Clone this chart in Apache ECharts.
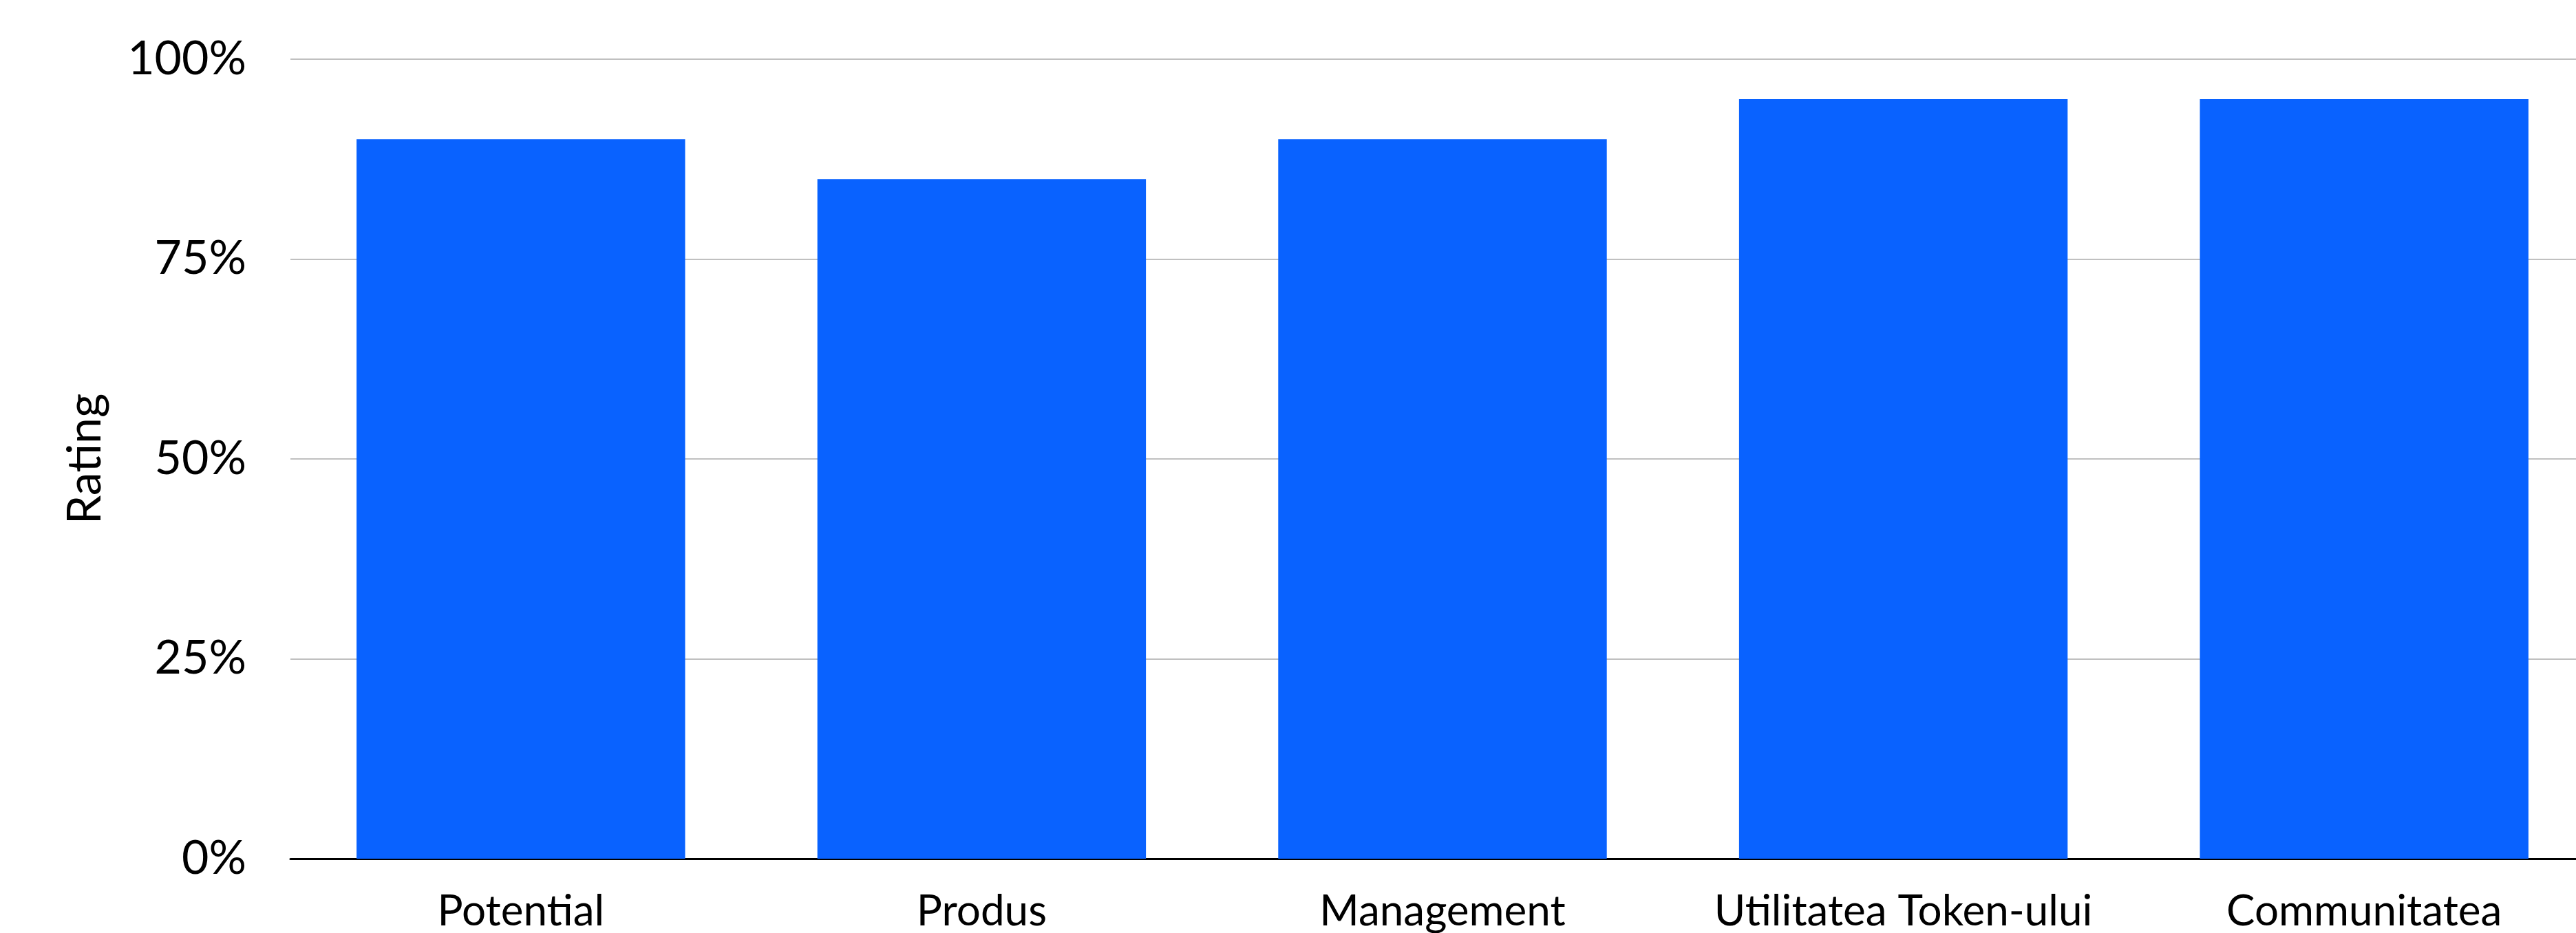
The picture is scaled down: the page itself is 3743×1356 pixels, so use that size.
<!DOCTYPE html>
<html>
<head>
<meta charset="utf-8">
<script src="https://cdn.jsdelivr.net/npm/echarts@6/dist/echarts.min.js"></script>
<style>
html,body{margin:0;padding:0;background:#fff;overflow:hidden;width:3743px;height:1356px;}
#chart{width:3770px;height:1356px;}
</style>
</head>
<body>
<div id="chart"></div>
<script>
const categories = ["Potential", "Produs", "Management", "Utilitatea Token-ului", "Communitatea"];
const ratings = [90, 85, 90, 95, 95];
const yTicks = [0, 25, 50, 75, 100];

const chart = echarts.init(document.getElementById('chart'), null, {renderer: 'canvas'});
const font = 'Lato';
chart.setOption({
  animation: false,
  backgroundColor: '#ffffff',
  grid: {left: 422, right: 0, top: 86, bottom: 88, containLabel: false},
  xAxis: {
    type: 'category',
    data: categories,
    axisLine: {show: true, lineStyle: {color: '#000000', width: 3}},
    axisTick: {show: false},
    axisLabel: {color: '#000000', fontFamily: font, fontSize: 62, margin: 46, interval: 0}
  },
  yAxis: {
    type: 'value',
    min: yTicks[0],
    max: yTicks[yTicks.length - 1],
    interval: 25,
    name: 'Rating',
    nameLocation: 'middle',
    nameGap: 264,
    nameRotate: 90,
    nameTextStyle: {color: '#000000', fontFamily: font, fontSize: 68},
    axisLine: {show: false},
    axisTick: {show: false},
    axisLabel: {color: '#000000', fontFamily: font, fontSize: 68, margin: 64,
      formatter: v => v + '%'},
    splitLine: {show: true, lineStyle: {color: '#c0c0c0', width: 2}}
  },
  series: [{
    type: 'bar',
    data: ratings,
    barCategoryGap: '28.7%',
    itemStyle: {color: '#0962FF'}
  }]
});
</script>
</body>
</html>
